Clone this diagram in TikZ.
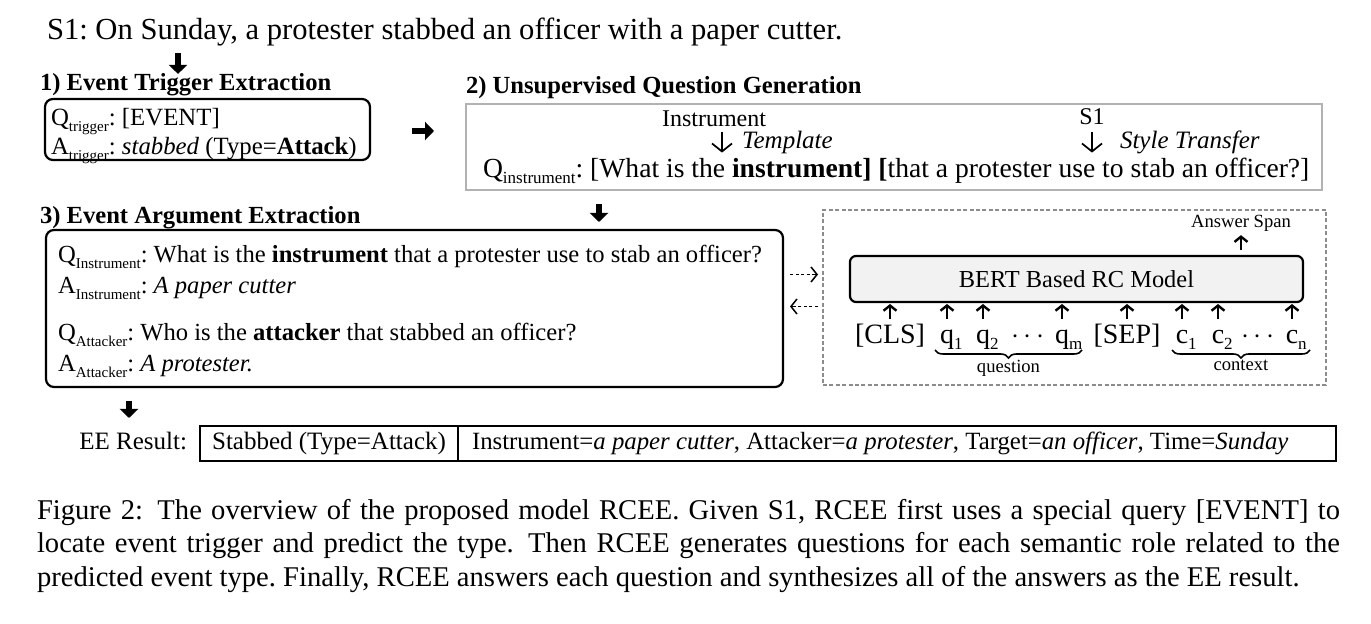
\documentclass[tikz,border=0pt]{standalone}
\usepackage{fontspec}
\setmainfont{Liberation Serif}
\usetikzlibrary{arrows.meta, positioning, decorations.pathreplacing}

\frenchspacing
\newcommand{\fsz}[1]{\fontsize{#1}{#1}\selectfont}
\newcommand{\subtag}[2][7.5]{\raisebox{-0.45ex}{\fsz{#1}#2}}
\newcommand{\tokidx}[1]{\rlap{\raisebox{-0.4ex}{\fsz{8.5}#1}}}

\begin{document}
\begin{tikzpicture}[
  x=0.5pt, y=-0.5pt,
  >={Stealth[]},
  every node/.style={inner sep=0pt, outer sep=0pt},
  heading/.style={anchor=base west, font=\fsz{12.3}\bfseries},
  plain/.style={anchor=base west, font=\fsz{12.3}},
  roundbox/.style={draw, line width=1.1pt, rounded corners=4pt},
  greybox/.style={draw=black!30, line width=1pt},
  cell/.style={draw, line width=1.1pt, minimum height=17.5pt, font=\fsz{12.5}},
  blockarrow/.style={line width=3.3pt, -{Triangle[width=9pt, length=4.5pt]}},
  thinarrow/.style={line width=0.85pt, -{Straight Barb[length=4pt, width=10pt]}},
  tokarrow/.style={line width=1.2pt, -{Straight Barb[length=2.6pt, width=6.5pt]}},
  dasharrow/.style={dash pattern=on 1.6pt off 1.2pt, line width=0.75pt, -{Straight Barb[length=3pt, width=7.5pt]}},
  token/.style={anchor=base, font=\fsz{14}},
  tiny/.style={font=\fsz{9.3}},
  tokbrace/.style={decorate, decoration={brace, mirror, amplitude=4pt}, line width=0.8pt},
  caption/.style={anchor=base west, font=\fsz{14.3}},
]
\path[use as bounding box, fill=white] (0,0) rectangle (1371,624);

% input sentence
\node[anchor=base west, font=\fsz{15.3}] (sent) at (47,40)
  {S1: On Sunday, a protester stabbed an officer with a paper cutter.};
\coordinate (sunday) at (178,53);

% 1) trigger extraction
\node[heading] (trighead) at (40,91) {1) Event Trigger Extraction};
\node[roundbox, minimum width=162.5pt, minimum height=30.5pt] (trigbox) at (207.5,129.5) {};
\node[plain, font=\fsz{12.4}] (qtrig) at (51,126) {Q\subtag{trigger}: [EVENT]};
\node[plain, font=\fsz{12.4}] (atrig) at (51,155) {A\subtag{trigger}: \textit{stabbed} (Type=\textbf{Attack})};
\draw[blockarrow] (sunday) -- (sunday |- trighead.north);

% 2) question generation
\node[heading] (qghead) at (466,94) {2) Unsupervised Question Generation};
\node[greybox, minimum width=428pt, minimum height=43pt] (qgbox) at (894,147) {};
\node[anchor=base, font=\fsz{12}] (role) at (714,127) {Instrument};
\node[anchor=base, font=\fsz{12}] (sone) at (1092,125) {S1};
\node[anchor=base west, font=\fsz{13.8}] (qline) at (483,178)
  {Q\subtag[8.5]{instrument}: [What is the \textbf{instrument]} \textbf{[}that a protester use to stab an officer?]};
\draw[thinarrow] ([shift={(8,5)}]role.south) -- node[right=10pt, font=\fsz{12.5}\itshape] (tmpl) {Template}
  ([shift={(8,-6)}]role.south |- qline.north);
\draw[thinarrow] ([shift={(0,7)}]sone.south) -- node[right=14pt, font=\fsz{12.5}\itshape] (style) {Style Transfer}
  ([shift={(0,-6)}]sone.south |- qline.north);
\coordinate (trigout) at ([shift={(42,1.5)}]trigbox.east);
\draw[blockarrow, shorten >=16pt] (trigout) -- (trigout -| qgbox.west);

% 3) argument extraction
\node[heading] (arghead) at (40,224) {3) Event Argument Extraction};
\node[roundbox, minimum width=368.5pt, minimum height=78.5pt] (argbox) at (414.5,308.5) {};
\node[plain] (qins) at (58,263) {Q\subtag{Instrument}: What is the \textbf{instrument} that a protester use to stab an officer?};
\node[plain] (ains) at (58,294) {A\subtag{Instrument}: \textit{A paper cutter}};
\node[plain] (qatt) at (58,341) {Q\subtag{Attacker}: Who is the \textbf{attacker} that stabbed an officer?};
\node[plain] (aatt) at (58,372) {A\subtag{Attacker}: \textit{A protester.}};
\coordinate (genout) at (599,204);
\draw[blockarrow, shorten >=4pt] (genout) -- (genout |- argbox.north);

% reading comprehension model
\node[draw=black!45, dash pattern=on 2pt off 1.2pt, line width=0.8pt, minimum width=251.5pt, minimum height=87.5pt] (rcbox) at (1074.5,297.5) {};
\node[roundbox, fill=black!5, rounded corners=3pt, minimum width=226.5pt, minimum height=23pt, font=\fsz{12.2}] (bert) at (1076.5,279) {BERT Based RC Model};
\node[tiny] (ans) at (1241,223) {Answer Span};
\draw[tokarrow, shorten <=3pt, shorten >=2pt] (ans |- bert.north) -- (ans.south);
\draw[dasharrow] ([shift={(7,-34)}]argbox.east) -- ([shift={(-5,-23)}]rcbox.west);
\draw[dasharrow] ([shift={(-5,9)}]rcbox.west) -- ([shift={(7,-2)}]argbox.east);

\node[token] (cls) at (890,344) {[CLS]};
\node[token] (q1) at (947,344) {q\tokidx{1}};
\node[token] (q2) at (983,344) {q\tokidx{2}};
\node[token] (qdots) at (1028,344) {$\cdots$};
\node[token] (qm) at (1062,344) {q\tokidx{m}};
\node[token] (sep) at (1127,344) {[SEP]};
\node[token] (c1) at (1182,344) {c\tokidx{1}};
\node[token] (c2) at (1218,344) {c\tokidx{2}};
\node[token] (cdots) at (1258,344) {$\cdots$};
\node[token] (cn) at (1292,344) {c\tokidx{n}};
\coordinate (tokbot) at (0,319);
\draw[tokarrow, shorten >=1pt] (cls |- tokbot) -- (cls |- bert.south);
\draw[tokarrow, shorten >=1pt] (q1 |- tokbot) -- (q1 |- bert.south);
\draw[tokarrow, shorten >=1pt] (q2 |- tokbot) -- (q2 |- bert.south);
\draw[tokarrow, shorten >=1pt] (qm |- tokbot) -- (qm |- bert.south);
\draw[tokarrow, shorten >=1pt] (sep |- tokbot) -- (sep |- bert.south);
\draw[tokarrow, shorten >=1pt] (c1 |- tokbot) -- (c1 |- bert.south);
\draw[tokarrow, shorten >=1pt] (c2 |- tokbot) -- (c2 |- bert.south);
\draw[tokarrow, shorten >=1pt] (cn |- tokbot) -- (cn |- bert.south);
\draw[tokbrace] ([shift={(-12,6)}]q1.base) -- node[below=5pt, tiny] (qlab) {question} ([shift={(20,6)}]qm.base);
\draw[tokbrace] ([shift={(-10,6)}]c1.base) -- node[below=5pt, tiny] (clab) {context} ([shift={(18,6)}]cn.base);

% EE result
\coordinate (argout) at (129,401);
\node[anchor=base east, font=\fsz{12.5}] (eelabel) at (187,450) {EE Result:};
\node[cell, minimum width=129pt] (rtrig) at (329,443.5) {Stabbed (Type=Attack)};
\node[cell, minimum width=439pt] (rargs) at (897,443.5) {};
\node[anchor=base west, font=\fsz{12.4}] (rargtext) at (472,450)
  {Instrument=\textit{a paper cutter}, Attacker=\textit{a protester}, Target=\textit{an officer}, Time=\textit{Sunday}};
\draw[blockarrow, shorten >=4pt] (argout) -- (argout |- rtrig.north);

% caption
\node[caption] (cap1) at (37,520) {\makebox[651.5pt][s]{Figure 2:\enspace The overview of the proposed model RCEE. Given S1, RCEE first uses a special query [EVENT] to}};
\node[caption] (cap2) at (37,553) {\makebox[651.5pt][s]{locate event trigger and predict the type.\enspace Then RCEE generates questions for each semantic role related to the}};
\node[caption] (cap3) at (37,587) {predicted event type. Finally, RCEE answers each question and synthesizes all of the answers as the EE result.};
\end{tikzpicture}
\end{document}
